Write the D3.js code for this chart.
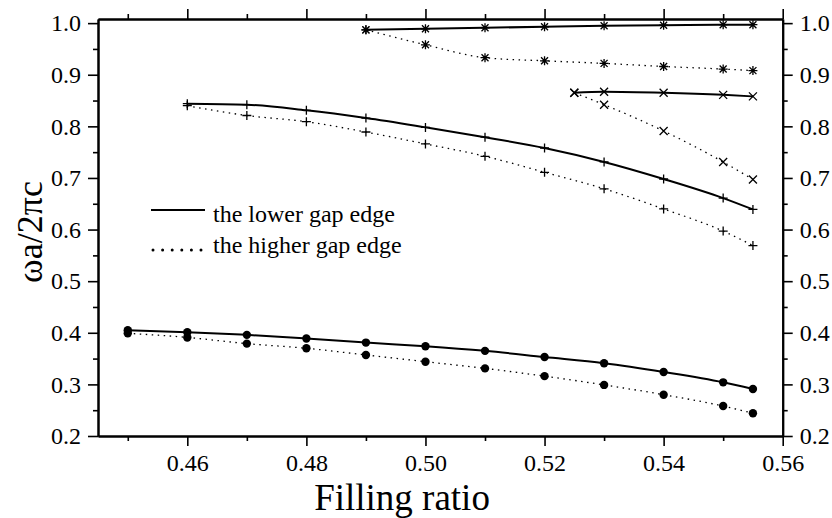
<!DOCTYPE html>
<html>
<head>
<meta charset="utf-8">
<script src="https://cdn.jsdelivr.net/npm/d3@7"></script>
<style>
  body { margin: 0; background: #fff; }
</style>
</head>
<body>
<svg id="chart" width="832" height="518"></svg>
<script>
// filling ratio values per band
const fill1 = [0.45, 0.46, 0.47, 0.48, 0.49, 0.50, 0.51, 0.52, 0.53, 0.54, 0.55, 0.555]
const band1Lower = [0.405, 0.401, 0.396, 0.389, 0.381, 0.374, 0.365, 0.353, 0.341, 0.324, 0.304, 0.291]
const band1Upper = [0.399, 0.391, 0.379, 0.370, 0.357, 0.344, 0.331, 0.316, 0.299, 0.280, 0.258, 0.244]

const fill2 = [0.46, 0.47, 0.48, 0.49, 0.50, 0.51, 0.52, 0.53, 0.54, 0.55, 0.555]
const band2Lower = [0.844, 0.842, 0.831, 0.816, 0.798, 0.779, 0.758, 0.731, 0.698, 0.661, 0.639]
const band2Upper = [0.840, 0.821, 0.809, 0.789, 0.766, 0.742, 0.711, 0.679, 0.640, 0.597, 0.569]

const fill3 = [0.49, 0.50, 0.51, 0.52, 0.53, 0.54, 0.55, 0.555]
const band3Lower = [0.987, 0.989, 0.991, 0.993, 0.995, 0.996, 0.997, 0.997]
const band3Upper = [0.987, 0.958, 0.933, 0.927, 0.922, 0.916, 0.911, 0.908]

const fill4 = [0.525, 0.53, 0.54, 0.55, 0.555]
const band4Lower = [0.865, 0.867, 0.865, 0.861, 0.858]
const band4Upper = [0.865, 0.842, 0.791, 0.731, 0.697]

const xMajor = [0.46, 0.48, 0.50, 0.52, 0.54, 0.56]
const xMinor = [0.45, 0.47, 0.49, 0.51, 0.53, 0.55]
const yMajor = [0.2, 0.3, 0.4, 0.5, 0.6, 0.7, 0.8, 0.9, 1.0]
const yMinor = [0.25, 0.35, 0.45, 0.55, 0.65, 0.75, 0.85, 0.95]

const legendLabels = ["the lower gap edge", "the higher gap edge"]

const serif = "'Liberation Serif', 'Times New Roman', serif"
const svg = d3.select("#chart").attr("font-family", serif)
const mLeft = 98, mRight = 782.7, mTop = 19, mBottom = 436

const x = d3.scaleLinear().domain([0.445, 0.56]).range([mLeft, mRight])
const y = d3.scaleLinear().domain([0.2, 1.008]).range([mBottom, mTop])

// marker shapes
const markers = {
  circle: null,
  plus: "M-4.5,0H4.5M0,-4.5V4.5",
  cross: "M-4,-4L4,4M-4,4L4,-4",
  star: "M-4.5,0H4.5M0,-4.5V4.5M-3.5,-3.5L3.5,3.5M-3.5,3.5L3.5,-3.5"
}

const drawSeries = (xs, ys, dashed, marker) => {
  const pts = xs.map((d, i) => [x(d), y(ys[i])])
  const line = d3.line().curve(d3.curveMonotoneX)
  svg.append("path")
    .attr("d", line(pts))
    .attr("fill", "none")
    .attr("stroke", "#000")
    .attr("stroke-width", dashed ? 1.3 : 2)
    .attr("stroke-dasharray", dashed ? "1.5,4.5" : null)

  const g = svg.append("g")
  if (marker === "circle") {
    g.selectAll("circle").data(pts).join("circle")
      .attr("cx", d => d[0]).attr("cy", d => d[1]).attr("r", 4.2)
      .attr("fill", "#000")
  } else {
    g.selectAll("path").data(pts).join("path")
      .attr("d", markers[marker])
      .attr("transform", d => `translate(${d[0]},${d[1]})`)
      .attr("stroke", "#000")
      .attr("stroke-width", 1.3)
      .attr("fill", "none")
  }
}

drawSeries(fill1, band1Lower, false, "circle")
drawSeries(fill1, band1Upper, true, "circle")
drawSeries(fill2, band2Lower, false, "plus")
drawSeries(fill2, band2Upper, true, "plus")
drawSeries(fill3, band3Lower, false, "star")
drawSeries(fill3, band3Upper, true, "star")
drawSeries(fill4, band4Lower, false, "cross")
drawSeries(fill4, band4Upper, true, "cross")

// axes: major + minor ticks on all four sides
const styleAxis = (g) => {
  g.attr("font-family", serif).attr("font-size", 24)
  g.selectAll("path.domain").attr("stroke-width", 2)
  g.selectAll(".tick line").attr("stroke-width", 1.6)
  g.selectAll("text").attr("fill", "#000")
}

const addAxis = (axisFn, scale, vals, size, fmt, transform, pad) => {
  const a = axisFn(scale).tickValues(vals).tickSize(size).tickSizeOuter(0)
    .tickPadding(pad).tickFormat(fmt)
  svg.append("g").attr("transform", transform).call(a).call(styleAxis)
}

addAxis(d3.axisBottom, x, xMajor, 10, d3.format(".2f"), `translate(0,${mBottom})`, 8)
addAxis(d3.axisBottom, x, xMinor, 5, () => "", `translate(0,${mBottom})`, 0)
addAxis(d3.axisTop, x, xMajor, 10, () => "", `translate(0,${mTop})`, 0)
addAxis(d3.axisTop, x, xMinor, 5, () => "", `translate(0,${mTop})`, 0)
addAxis(d3.axisLeft, y, yMajor, 10, d3.format(".1f"), `translate(${mLeft},0)`, 7)
addAxis(d3.axisLeft, y, yMinor, 5, () => "", `translate(${mLeft},0)`, 0)
addAxis(d3.axisRight, y, yMajor, 10, d3.format(".1f"), `translate(${mRight},0)`, 7)
addAxis(d3.axisRight, y, yMinor, 5, () => "", `translate(${mRight},0)`, 0)

// axis titles
svg.append("text")
  .attr("x", 402).attr("y", 510)
  .attr("text-anchor", "middle")
  .attr("font-size", 37)
  .text("Filling ratio")

svg.append("text")
  .attr("transform", "translate(42,232) rotate(-90)")
  .attr("text-anchor", "middle")
  .attr("font-size", 36)
  .text("ωa/2πc")

// legend
const leg = svg.append("g")
leg.append("line")
  .attr("x1", 151).attr("x2", 205).attr("y1", 210).attr("y2", 210)
  .attr("stroke", "#000").attr("stroke-width", 2)
leg.append("line")
  .attr("x1", 153).attr("x2", 205).attr("y1", 250).attr("y2", 250)
  .attr("stroke", "#000").attr("stroke-width", 3)
  .attr("stroke-linecap", "round")
  .attr("stroke-dasharray", "0,9.6")
leg.selectAll("text").data(legendLabels).join("text")
  .attr("x", 213)
  .attr("y", (d, i) => 222 + i * 31)
  .attr("font-size", 24)
  .text(d => d)
</script>
</body>
</html>
